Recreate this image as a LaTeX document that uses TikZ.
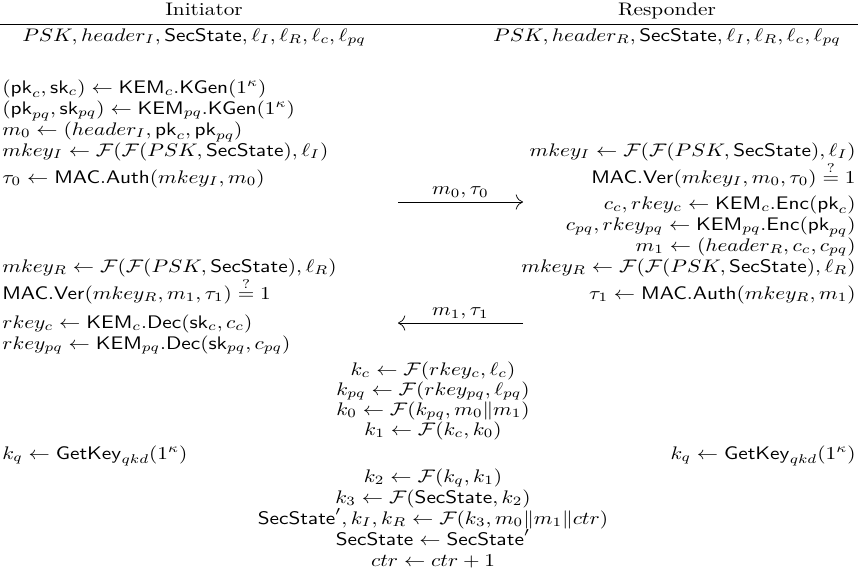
\documentclass[tikz,border=0pt]{standalone}
\usepackage{amsmath}
\usepackage{graphicx}
\usepackage{tikz}
\usetikzlibrary{arrows.meta}

\newcommand{\SecSt}{\mathsf{SecState}}
\newcommand{\KEMx}{\mathsf{KEM}}
% the protocol text runs a little wider than the font
\newcommand{\wrow}[1]{\scalebox{1.17}[1]{$#1$}}

\begin{document}
\begin{tikzpicture}[
  x=0.55pt, y=-0.55pt,
  ini/.style={anchor=base west, inner sep=0pt},
  rsp/.style={anchor=base east, inner sep=0pt},
  both/.style={anchor=base, inner sep=0pt},
  party/.style={anchor=base, inner sep=0pt},
  msg/.style={-{To[length=1.4mm]}, thin},
  msglabel/.style={above, inner sep=2pt}
]
\useasboundingbox (0,0) rectangle (858,576);

\node[party] (init-hdr) at (204,15) {\scalebox{1.17}[1]{Initiator}};
\node[party] (resp-hdr) at (667,15) {\scalebox{1.17}[1]{Responder}};
\coordinate (rule-l) at (0,24);
\coordinate (rule-r) at (858,24);
\draw (rule-l) -- (rule-r);
\node[party] (init-state) at (194,41) {\wrow{PSK, header_I, \SecSt, \ell_I, \ell_R, \ell_c, \ell_{pq}}};
\node[party] (resp-state) at (667,41) {\wrow{PSK, header_R, \SecSt, \ell_I, \ell_R, \ell_c, \ell_{pq}}};

% initiator: key generation and first message
\node[ini] (kgen-c) at (2,93) {\wrow{(\mathsf{pk}_c, \mathsf{sk}_c) \leftarrow \KEMx_c.\mathsf{KGen}(1^\kappa)}};
\node[ini] (kgen-pq) at (2,114) {\wrow{(\mathsf{pk}_{pq}, \mathsf{sk}_{pq}) \leftarrow \KEMx_{pq}.\mathsf{KGen}(1^\kappa)}};
\node[ini] (msg0) at (2,135) {\wrow{m_0 \leftarrow (header_I, \mathsf{pk}_c, \mathsf{pk}_{pq})}};
\node[ini] (mkey-i-init) at (2,156) {\wrow{mkey_I \leftarrow \mathcal{F}(\mathcal{F}(PSK, \SecSt), \ell_I)}};
\node[rsp] (mkey-i-resp) at (856,156) {\wrow{mkey_I \leftarrow \mathcal{F}(\mathcal{F}(PSK, \SecSt), \ell_I)}};
\node[ini] (tau0) at (2,183) {\wrow{\tau_0 \leftarrow \mathsf{MAC}.\mathsf{Auth}(mkey_I, m_0)}};
\node[rsp] (ver0) at (856,183) {\wrow{\mathsf{MAC}.\mathsf{Ver}(mkey_I, m_0, \tau_0) \overset{?}{=} 1}};

\coordinate (send0) at (398,202);
\coordinate (recv0) at (523,202);
\draw[msg] (send0) -- node[msglabel] {\wrow{m_0, \tau_0}} (recv0);

% responder: encapsulation and second message
\node[rsp] (enc-c) at (856,209) {\wrow{c_c, rkey_c \leftarrow \KEMx_c.\mathsf{Enc}(\mathsf{pk}_c)}};
\node[rsp] (enc-pq) at (856,230) {\wrow{c_{pq}, rkey_{pq} \leftarrow \KEMx_{pq}.\mathsf{Enc}(\mathsf{pk}_{pq})}};
\node[rsp] (msg1) at (856,251) {\wrow{m_1 \leftarrow (header_R, c_c, c_{pq})}};
\node[ini] (mkey-r-init) at (2,272) {\wrow{mkey_R \leftarrow \mathcal{F}(\mathcal{F}(PSK, \SecSt), \ell_R)}};
\node[rsp] (mkey-r-resp) at (856,272) {\wrow{mkey_R \leftarrow \mathcal{F}(\mathcal{F}(PSK, \SecSt), \ell_R)}};
\node[ini] (ver1) at (2,299) {\wrow{\mathsf{MAC}.\mathsf{Ver}(mkey_R, m_1, \tau_1) \overset{?}{=} 1}};
\node[rsp] (tau1) at (856,299) {\wrow{\tau_1 \leftarrow \mathsf{MAC}.\mathsf{Auth}(mkey_R, m_1)}};

\coordinate (send1) at (523,323);
\coordinate (recv1) at (398,323);
\draw[msg] (send1) -- node[msglabel] {\wrow{m_1, \tau_1}} (recv1);

% initiator: decapsulation
\node[ini] (dec-c) at (2,328) {\wrow{rkey_c \leftarrow \KEMx_c.\mathsf{Dec}(\mathsf{sk}_c, c_c)}};
\node[ini] (dec-pq) at (2,349) {\wrow{rkey_{pq} \leftarrow \KEMx_{pq}.\mathsf{Dec}(\mathsf{sk}_{pq}, c_{pq})}};

% both sides: key derivation
\node[both] (kc) at (433,375) {\wrow{k_c \leftarrow \mathcal{F}(rkey_c, \ell_c)}};
\node[both] (kpq) at (433,395) {\wrow{k_{pq} \leftarrow \mathcal{F}(rkey_{pq}, \ell_{pq})}};
\node[both] (k0) at (433,415) {\wrow{k_0 \leftarrow \mathcal{F}(k_{pq}, m_0 \| m_1)}};
\node[both] (k1) at (433,435) {\wrow{k_1 \leftarrow \mathcal{F}(k_c, k_0)}};
\node[ini] (kq-init) at (2,459) {\wrow{k_q \leftarrow \mathsf{GetKey}_{qkd}(1^\kappa)}};
\node[rsp] (kq-resp) at (856,459) {\wrow{k_q \leftarrow \mathsf{GetKey}_{qkd}(1^\kappa)}};
\node[both] (k2) at (433,482) {\wrow{k_2 \leftarrow \mathcal{F}(k_q, k_1)}};
\node[both] (k3) at (433,503) {\wrow{k_3 \leftarrow \mathcal{F}(\SecSt, k_2)}};
\node[both] (update) at (433,524) {\wrow{\SecSt', k_I, k_R \leftarrow \mathcal{F}(k_3, m_0 \| m_1 \| ctr)}};
\node[both] (commit) at (433,545) {\wrow{\SecSt \leftarrow \SecSt'}};
\node[both] (ctr) at (433,566) {\wrow{ctr \leftarrow ctr + 1}};
\end{tikzpicture}
\end{document}
